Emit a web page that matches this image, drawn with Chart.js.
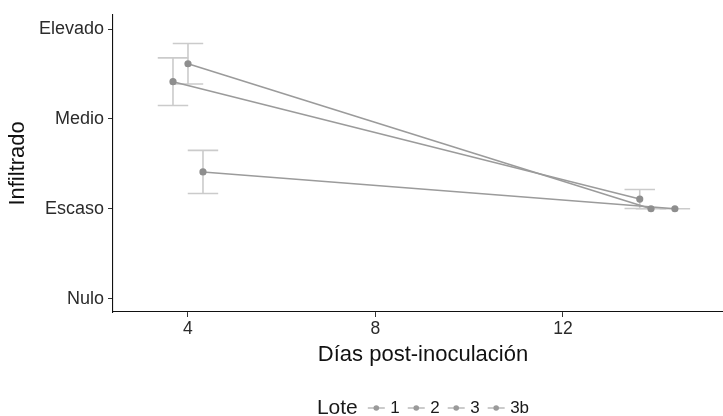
<!DOCTYPE html>
<html><head><meta charset="utf-8">
<script src="https://cdn.jsdelivr.net/npm/chart.js@4.4.1/dist/chart.umd.min.js"></script>
<style>html,body{margin:0;padding:0;background:#fff;overflow:hidden;}#wrap{width:723px;height:416px;position:relative;overflow:hidden;}canvas{display:block;}</style>
</head><body><div id="wrap"><canvas id="c" width="740" height="416"></canvas></div>
<script>
// ---- data ----
const lotes = ['1', '2', '3', '3b'];
const levelLabels = ['Nulo', 'Escaso', 'Medio', 'Elevado'];
const xTicks = [4, 8, 12];
// dodged day positions, mean score, error half-width per lote
const lote1X = [3.68, 13.64];  const lote1Y = [2.415, 1.108]; const lote1Err = [0.265, 0.106];
const lote2X = [4.00, 13.88];  const lote2Y = [2.615, 1.00];  const lote2Err = [0.225, 0.0];
const lote3X = [];             const lote3Y = [];             const lote3Err = [];
const lote3bX = [4.32, 14.39]; const lote3bY = [1.41, 1.00];  const lote3bErr = [0.24, 0.0];

const seriesX = [lote1X, lote2X, lote3X, lote3bX];
const seriesY = [lote1Y, lote2Y, lote3Y, lote3bY];
const seriesErr = [lote1Err, lote2Err, lote3Err, lote3bErr];

const FONT = "'Liberation Sans', Arial, Helvetica, sans-serif";
const LINE_C = '#9b9b9b', POINT_C = '#8e8e8e', ERR_C = '#cbcbcb';
const CAP_HALF = 0.325; // in x data units

const datasets = lotes.map((name, i) => ({
  label: name,
  data: seriesX[i].map((x, j) => ({ x: x, y: seriesY[i][j] })),
  errs: seriesErr[i],
  showLine: true,
  borderColor: LINE_C,
  borderWidth: 1.6,
  backgroundColor: POINT_C,
  pointBackgroundColor: POINT_C,
  pointBorderWidth: 0,
  pointRadius: 3.6,
  pointHoverRadius: 3.6,
  tension: 0
}));

const errorBars = {
  id: 'errorBars',
  beforeDatasetsDraw(chart) {
    const ctx = chart.ctx, xs = chart.scales.x, ys = chart.scales.y;
    ctx.save();
    ctx.strokeStyle = ERR_C; ctx.lineWidth = 1.6; ctx.lineCap = 'butt';
    chart.data.datasets.forEach(ds => {
      ds.data.forEach((p, j) => {
        const e = ds.errs[j];
        const px = xs.getPixelForValue(p.x);
        const pl = xs.getPixelForValue(p.x - CAP_HALF), pr = xs.getPixelForValue(p.x + CAP_HALF);
        const yt = ys.getPixelForValue(p.y + e), yb = ys.getPixelForValue(p.y - e);
        ctx.beginPath();
        ctx.moveTo(px, yt); ctx.lineTo(px, yb);
        ctx.moveTo(pl, yt); ctx.lineTo(pr, yt);
        ctx.moveTo(pl, yb); ctx.lineTo(pr, yb);
        ctx.stroke();
      });
    });
    ctx.restore();
  }
};

const bottomLegend = {
  id: 'bottomLegend',
  afterDraw(chart) {
    const ctx = chart.ctx;
    const cy = 408, keyW = 17, gapKT = 5.5, gapItem = 8, gapTitle = 10;
    ctx.save();
    ctx.textBaseline = 'middle';
    ctx.font = '21px ' + FONT;
    const tW = ctx.measureText('Lote').width;
    ctx.font = '17px ' + FONT;
    let total = tW + gapTitle;
    lotes.forEach((l, i) => { total += keyW + gapKT + ctx.measureText(l).width + (i < lotes.length - 1 ? gapItem : 0); });
    const area = chart.chartArea;
    let x = (area.left + area.right) / 2 - total / 2;
    ctx.fillStyle = '#1a1a1a';
    ctx.font = '21px ' + FONT;
    ctx.fillText('Lote', x, cy);
    x += tW + gapTitle;
    ctx.font = '17px ' + FONT;
    lotes.forEach((l, i) => {
      ctx.strokeStyle = '#a8a8a8'; ctx.lineWidth = 1.2;
      ctx.beginPath(); ctx.moveTo(x, cy); ctx.lineTo(x + keyW, cy); ctx.stroke();
      ctx.fillStyle = '#9a9a9a';
      ctx.beginPath(); ctx.arc(x + keyW / 2, cy, 2.8, 0, Math.PI * 2); ctx.fill();
      x += keyW + gapKT;
      ctx.fillStyle = '#1a1a1a';
      ctx.fillText(l, x, cy);
      x += ctx.measureText(l).width + gapItem;
    });
    ctx.restore();
  }
};

new Chart(document.getElementById('c'), {
  type: 'scatter',
  data: { datasets: datasets },
  options: {
    responsive: false,
    animation: false,
    events: [],
    layout: { padding: { left: 0, right: 7, top: 14, bottom: 44 } },
    plugins: { legend: { display: false }, tooltip: { enabled: false } },
    scales: {
      x: {
        type: 'linear', min: 2.4, max: 15.63,
        afterBuildTicks: s => { s.ticks = xTicks.map(v => ({ value: v })); },
        afterFit: s => { s.height = 60; },
        grid: { drawOnChartArea: false, drawTicks: true, tickLength: 5, color: '#333', lineWidth: 1 },
        border: { display: true, color: '#111', width: 1.1 },
        ticks: { font: { family: FONT, size: 17.5 }, color: '#2b2b2b', padding: 2, maxRotation: 0 },
        title: { display: true, text: 'Días post-inoculación', font: { family: FONT, size: 22 }, color: '#111', padding: { top: 0, bottom: 4 } }
      },
      y: {
        type: 'linear', min: -0.15, max: 3.16,
        afterBuildTicks: s => { s.ticks = levelLabels.map((_, i) => ({ value: i })); },
        afterFit: s => { s.width = 113; },
        grid: { drawOnChartArea: false, drawTicks: true, tickLength: 5, color: '#333', lineWidth: 1 },
        border: { display: true, color: '#111', width: 1.1 },
        ticks: { font: { family: FONT, size: 18 }, color: '#2b2b2b', padding: 4, callback: v => levelLabels[v] },
        title: { display: true, text: 'Infiltrado', font: { family: FONT, size: 22 }, color: '#111', padding: { top: 5, bottom: 0 } }
      }
    }
  },
  plugins: [errorBars, bottomLegend]
});
</script></body></html>
